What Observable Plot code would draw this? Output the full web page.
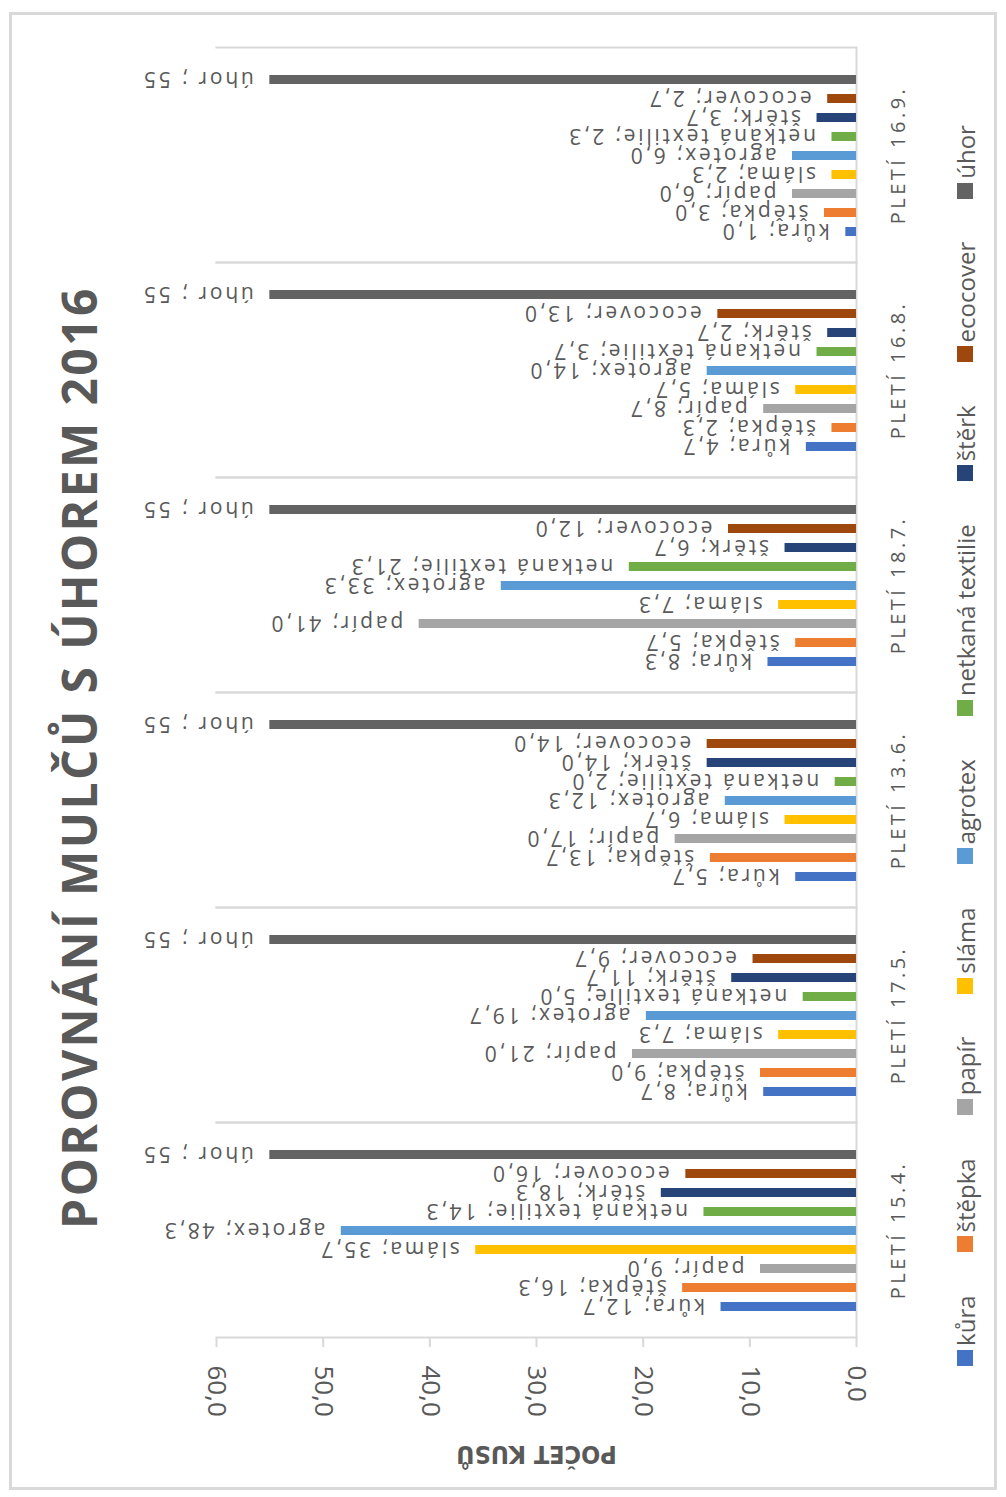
<!DOCTYPE html>
<html><head><meta charset="utf-8">
<script src="https://cdn.jsdelivr.net/npm/d3@7"></script>
<script src="https://cdn.jsdelivr.net/npm/@observablehq/plot@0.6"></script>
<style>
html,body{margin:0;padding:0;background:#fff;overflow:hidden;width:1006px;height:1497px;}
#rot{position:absolute;left:0;top:0;width:1497px;height:1006px;transform-origin:0 0;transform:translate(0px,1497px) rotate(-90deg);font-family:"Open Sans",sans-serif;color:#595959;}
#border{position:absolute;left:7px;top:8.5px;width:1478px;height:988px;border:3px solid #d9d9d9;box-sizing:border-box;}
#title{position:absolute;left:0;top:0;width:1497px;height:156px;box-sizing:border-box;padding-right:18px;display:flex;align-items:center;justify-content:center;font-weight:700;font-size:48px;letter-spacing:2.4px;margin:0;}
#chart{position:absolute;left:0;top:156px;}
#legend{position:absolute;left:0;top:930px;width:1497px;height:70px;box-sizing:border-box;padding-left:6px;display:flex;align-items:center;justify-content:center;gap:43px;font-size:24px;}
#legend .item{display:flex;align-items:center;gap:4px;}
#legend .sw{display:inline-block;width:16px;height:16px;}
</style>
</head><body>
<div id="rot">
  <div id="border"></div>
  <h1 id="title">POROVNÁNÍ MULČŮ S ÚHOREM 2016</h1>
  <div id="chart"></div>
  <div id="legend"></div>
</div>
<script>
const groups = ["PLETÍ 15.4.", "PLETÍ 17.5.", "PLETÍ 13.6.", "PLETÍ 18.7.", "PLETÍ 16.8.", "PLETÍ 16.9."];
const series = ["kůra", "štěpka", "papír", "sláma", "agrotex", "netkaná textilie", "štěrk", "ecocover", "úhor"];
const colors = ["#4472C4", "#ED7D31", "#A5A5A5", "#FFC000", "#5B9BD5", "#70AD47", "#264478", "#9E480E", "#636363"];
// values per series, in the order of groups
const kura     = [12.7, 8.7, 5.7, 8.3, 4.7, 1.0];
const stepka   = [16.3, 9.0, 13.7, 5.7, 2.3, 3.0];
const papir    = [9.0, 21.0, 17.0, 41.0, 8.7, 6.0];
const slama    = [35.7, 7.3, 6.7, 7.3, 5.7, 2.3];
const agrotex  = [48.3, 19.7, 12.3, 33.3, 14.0, 6.0];
const netkana  = [14.3, 5.0, 2.0, 21.3, 3.7, 2.3];
const sterk    = [18.3, 11.7, 14.0, 6.7, 2.7, 3.7];
const ecocover = [16.0, 9.7, 14.0, 12.0, 13.0, 2.7];
const uhor     = [55, 55, 55, 55, 55, 55];
const yTicks = [0, 10, 20, 30, 40, 50, 60];

const valuesBySeries = [kura, stepka, papir, slama, agrotex, netkana, sterk, ecocover, uhor];
const fmt = v => v.toFixed(1).replace(".", ",");
const data = [];
series.forEach((s, i) => {
  groups.forEach((g, j) => {
    const v = valuesBySeries[i][j];
    const label = s === "úhor" ? `${s} ; ${v}` : `${s}; ${fmt(v)}`;
    data.push({group: g, series: s, value: v, label});
  });
});

const chart = Plot.plot({
  width: 1497, height: 774,
  marginLeft: 158, marginRight: 47, marginTop: 60, marginBottom: 74,
  style: {fontFamily: '"Open Sans", sans-serif', color: "#595959", background: "transparent", overflow: "visible"},
  fx: {domain: groups, padding: 0, label: null, axis: null},
  x: {domain: series, paddingInner: 0.52, paddingOuter: 1.17, axis: null},
  y: {domain: [0, 60], axis: null},
  color: {domain: series, range: colors},
  marks: [
    Plot.frame({anchor: "left", stroke: "#d9d9d9", strokeWidth: 2}),
    Plot.frame({anchor: "right", stroke: "#d9d9d9", strokeWidth: 2}),
    Plot.ruleY([0], {stroke: "#d9d9d9", strokeWidth: 2}),
    Plot.axisY({ticks: yTicks, tickFormat: fmt, tickSize: 9, tickPadding: 19, tickRotate: 180,
      textAnchor: "start", lineAnchor: "middle", fontSize: 26,
      label: "POČET KUSŮ", labelAnchor: "center", labelOffset: 126, labelArrow: "none"}),
    Plot.axisFx({anchor: "bottom", tickSize: 0, tickPadding: 34, fontSize: 20, label: null}),
    Plot.barY(data, {fx: "group", x: "series", y: "value", fill: "series"}),
    Plot.text(data, {fx: "group", x: "series", y: "value", text: "label", rotate: -90,
      textAnchor: "start", lineAnchor: "middle", dy: -16, fontSize: 21, fill: "#595959"})
  ]
});
document.getElementById("chart").appendChild(chart);

// styling details
d3.select(chart).selectAll('[aria-label="y-axis tick"] path').attr("stroke", "#d9d9d9").attr("stroke-width", 2);
d3.select(chart).selectAll('[aria-label="y-axis label"] text')
  .style("font-family", '"Liberation Sans Narrow", "DejaVu Sans Condensed", sans-serif')
  .style("font-size", "25px").style("font-weight", "bold");
d3.select(chart).selectAll('[aria-label="fx-axis tick label"] text').style("letter-spacing", "3.5px");
d3.select(chart).selectAll('[aria-label="text"] text').style("letter-spacing", "2.8px");

const legend = d3.select("#legend");
series.forEach((s, i) => {
  const it = legend.append("span").attr("class", "item");
  it.append("span").attr("class", "sw").style("background", colors[i]);
  it.append("span").text(s);
});
</script>
</body></html>
